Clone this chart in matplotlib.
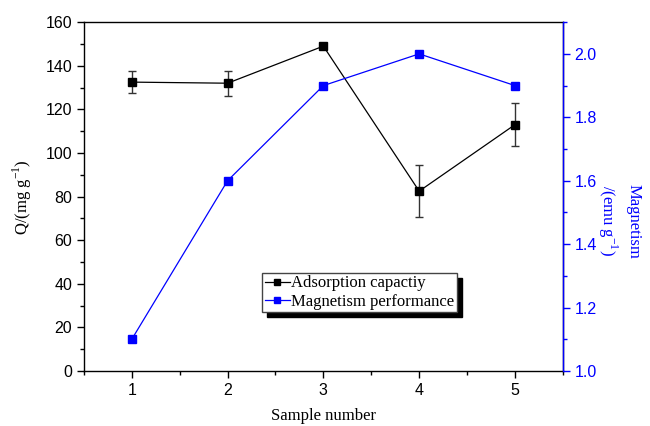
import matplotlib
matplotlib.use("Agg")
import matplotlib.pyplot as plt
from matplotlib.ticker import MultipleLocator
from matplotlib.lines import Line2D

samples = [1, 2, 3, 4, 5]
adsorption = [132.5, 132.0, 149.0, 82.5, 113.0]
adsorption_err = [5.0, 5.7, 0.0, 12.0, 10.0]
magnetism = [1.1, 1.6, 1.9, 2.0, 1.9]

serif = ["Liberation Serif", "DejaVu Serif"]
sans = ["Liberation Sans", "DejaVu Sans"]

fig = plt.figure(figsize=(6.5, 4.26), dpi=100)
ax = fig.add_axes([0.129, 0.129, 0.737, 0.819])
ax2 = ax.twinx()

ax.errorbar(samples, adsorption, yerr=adsorption_err, color="black", marker="s",
            markersize=6, linewidth=0.9, capsize=3, elinewidth=1, ecolor="#333333")
ax2.plot(samples, magnetism, color="blue", marker="s", markersize=6, linewidth=0.9)

ax.set_xlim(0.5, 5.5)
ax.set_ylim(0, 160)
ax2.set_ylim(1.0, 2.1)

ax.xaxis.set_major_locator(MultipleLocator(1))
ax.xaxis.set_minor_locator(MultipleLocator(0.5))
ax.yaxis.set_major_locator(MultipleLocator(20))
ax.yaxis.set_minor_locator(MultipleLocator(10))
ax2.yaxis.set_major_locator(MultipleLocator(0.2))
ax2.yaxis.set_minor_locator(MultipleLocator(0.1))

ax.tick_params(axis="both", which="major", direction="out", length=5, width=1, labelsize=11.5)
ax.tick_params(axis="both", which="minor", direction="out", length=3, width=1)
ax.tick_params(top=False, which="both")
ax2.tick_params(axis="y", which="major", direction="out", length=5, width=1, labelsize=11.5,
                colors="blue")
ax2.tick_params(axis="y", which="minor", direction="out", length=3, width=1, colors="blue")

for lab in ax.get_xticklabels() + ax.get_yticklabels():
    lab.set_fontfamily(sans)
for lab in ax2.get_yticklabels():
    lab.set_fontfamily(sans)

for sp in ax.spines.values():
    sp.set_linewidth(1)
ax2.spines["right"].set_color("blue")
ax2.spines["right"].set_linewidth(1)
for sp in ["left", "top", "bottom"]:
    ax2.spines[sp].set_visible(False)

ax.set_xlabel("Sample number", fontfamily=serif, fontsize=12, labelpad=7)
ax.set_ylabel("Q/(mg g$^{\\mathdefault{-1}}$)", fontfamily=serif, fontsize=12, labelpad=8)
ax2.set_ylabel("Magnetism\n/(emu g$^{\\mathdefault{-1}}$)", fontfamily=serif, fontsize=12,
               color="blue", rotation=270, linespacing=1.4)
ax2.yaxis.set_label_coords(1.165, 0.43)

h1 = Line2D([], [], color="black", marker="s", markersize=5, linewidth=0.9)
h2 = Line2D([], [], color="blue", marker="s", markersize=5, linewidth=0.9)
leg = ax.legend([h1, h2], ["Adsorption capactiy", "Magnetism performance"],
                loc="lower left", bbox_to_anchor=(0.372, 0.168), frameon=True,
                fancybox=False, shadow={"color": "black", "alpha": 1, "ox": 3.5, "oy": -3.5},
                prop={"family": serif, "size": 12}, handlelength=1.5, handletextpad=0.1,
                borderpad=0.15, labelspacing=0.15, borderaxespad=0)
leg.get_frame().set_edgecolor("#444444")
leg.get_frame().set_linewidth(1)

fig.savefig("out.png", dpi=100)
